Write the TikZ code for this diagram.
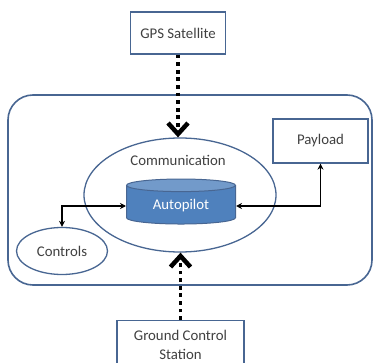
\documentclass[tikz,border=0pt]{standalone}
\usepackage{fontspec}
\setmainfont{Carlito}
\usepackage{xcolor}
\definecolor{edgeblue}{RGB}{72,102,146}
\definecolor{pilotblue}{RGB}{79,129,189}
\definecolor{textgray}{RGB}{64,64,64}
\usetikzlibrary{arrows.meta,positioning,shapes.geometric}
\tikzset{
  >={Stealth[length=6pt,width=6pt]},
  block/.style={rectangle,draw=edgeblue,line width=1.3pt,fill=white,text=textgray,align=center},
  region/.style={ellipse,draw=edgeblue,line width=1.3pt,text=textgray},
  frame/.style={rectangle,draw=edgeblue,line width=1.6pt,rounded corners=25pt},
  pilot/.style={cylinder,shape border rotate=90,aspect=0.2,draw=edgeblue,line width=1pt,
    cylinder uses custom fill,cylinder body fill=pilotblue,cylinder end fill=pilotblue!80!white,text=white},
  link/.style={<->,line width=1.2pt},
  radio/.style={line width=3.8pt,dash pattern=on 3.8pt off 3.8pt,
    -{Straight Barb[length=11pt,width=20pt,line width=4.5pt]}}
}

\begin{document}
\begin{tikzpicture}[x=1pt,y=-1pt,font=\fontsize{14.8}{19}\selectfont]
  \useasboundingbox (0,0) rectangle (374,363);
  % Vehicle frame
  \node[frame,minimum width=364pt,minimum height=190pt] (uav) at (190,190) {};

  % Outside parties
  \node[block,minimum width=95pt,minimum height=42pt] (gps) at (178,33) {GPS Satellite};
  \node[block,minimum width=127pt,minimum height=48pt,anchor=north] (gcs) at (180.5,320) {Ground Control\\Station};

  % On board
  \node[region,minimum width=192pt,minimum height=114pt] (comm) at (180,195) {};
  \node[text=textgray] (commtext) at (178,160) {Communication};
  \node[pilot,minimum width=109pt,minimum height=45pt] (pilot) at (181,206) {Autopilot};
  \node[block,minimum width=95pt,minimum height=44pt] (payload) at (320.5,141) {Payload};
  \node[region,minimum width=91pt,minimum height=47pt] (controls) at (62,251) {Controls};

  % Links
  \draw[radio] (gps.south) -- (gps.south |- comm.north);
  \draw[radio] (gcs.north) -- (gcs.north |- comm.south);
  \draw[link] (pilot.west) -| (controls.north);
  \draw[link] (pilot.east) -| (payload.south);
\end{tikzpicture}
\end{document}
